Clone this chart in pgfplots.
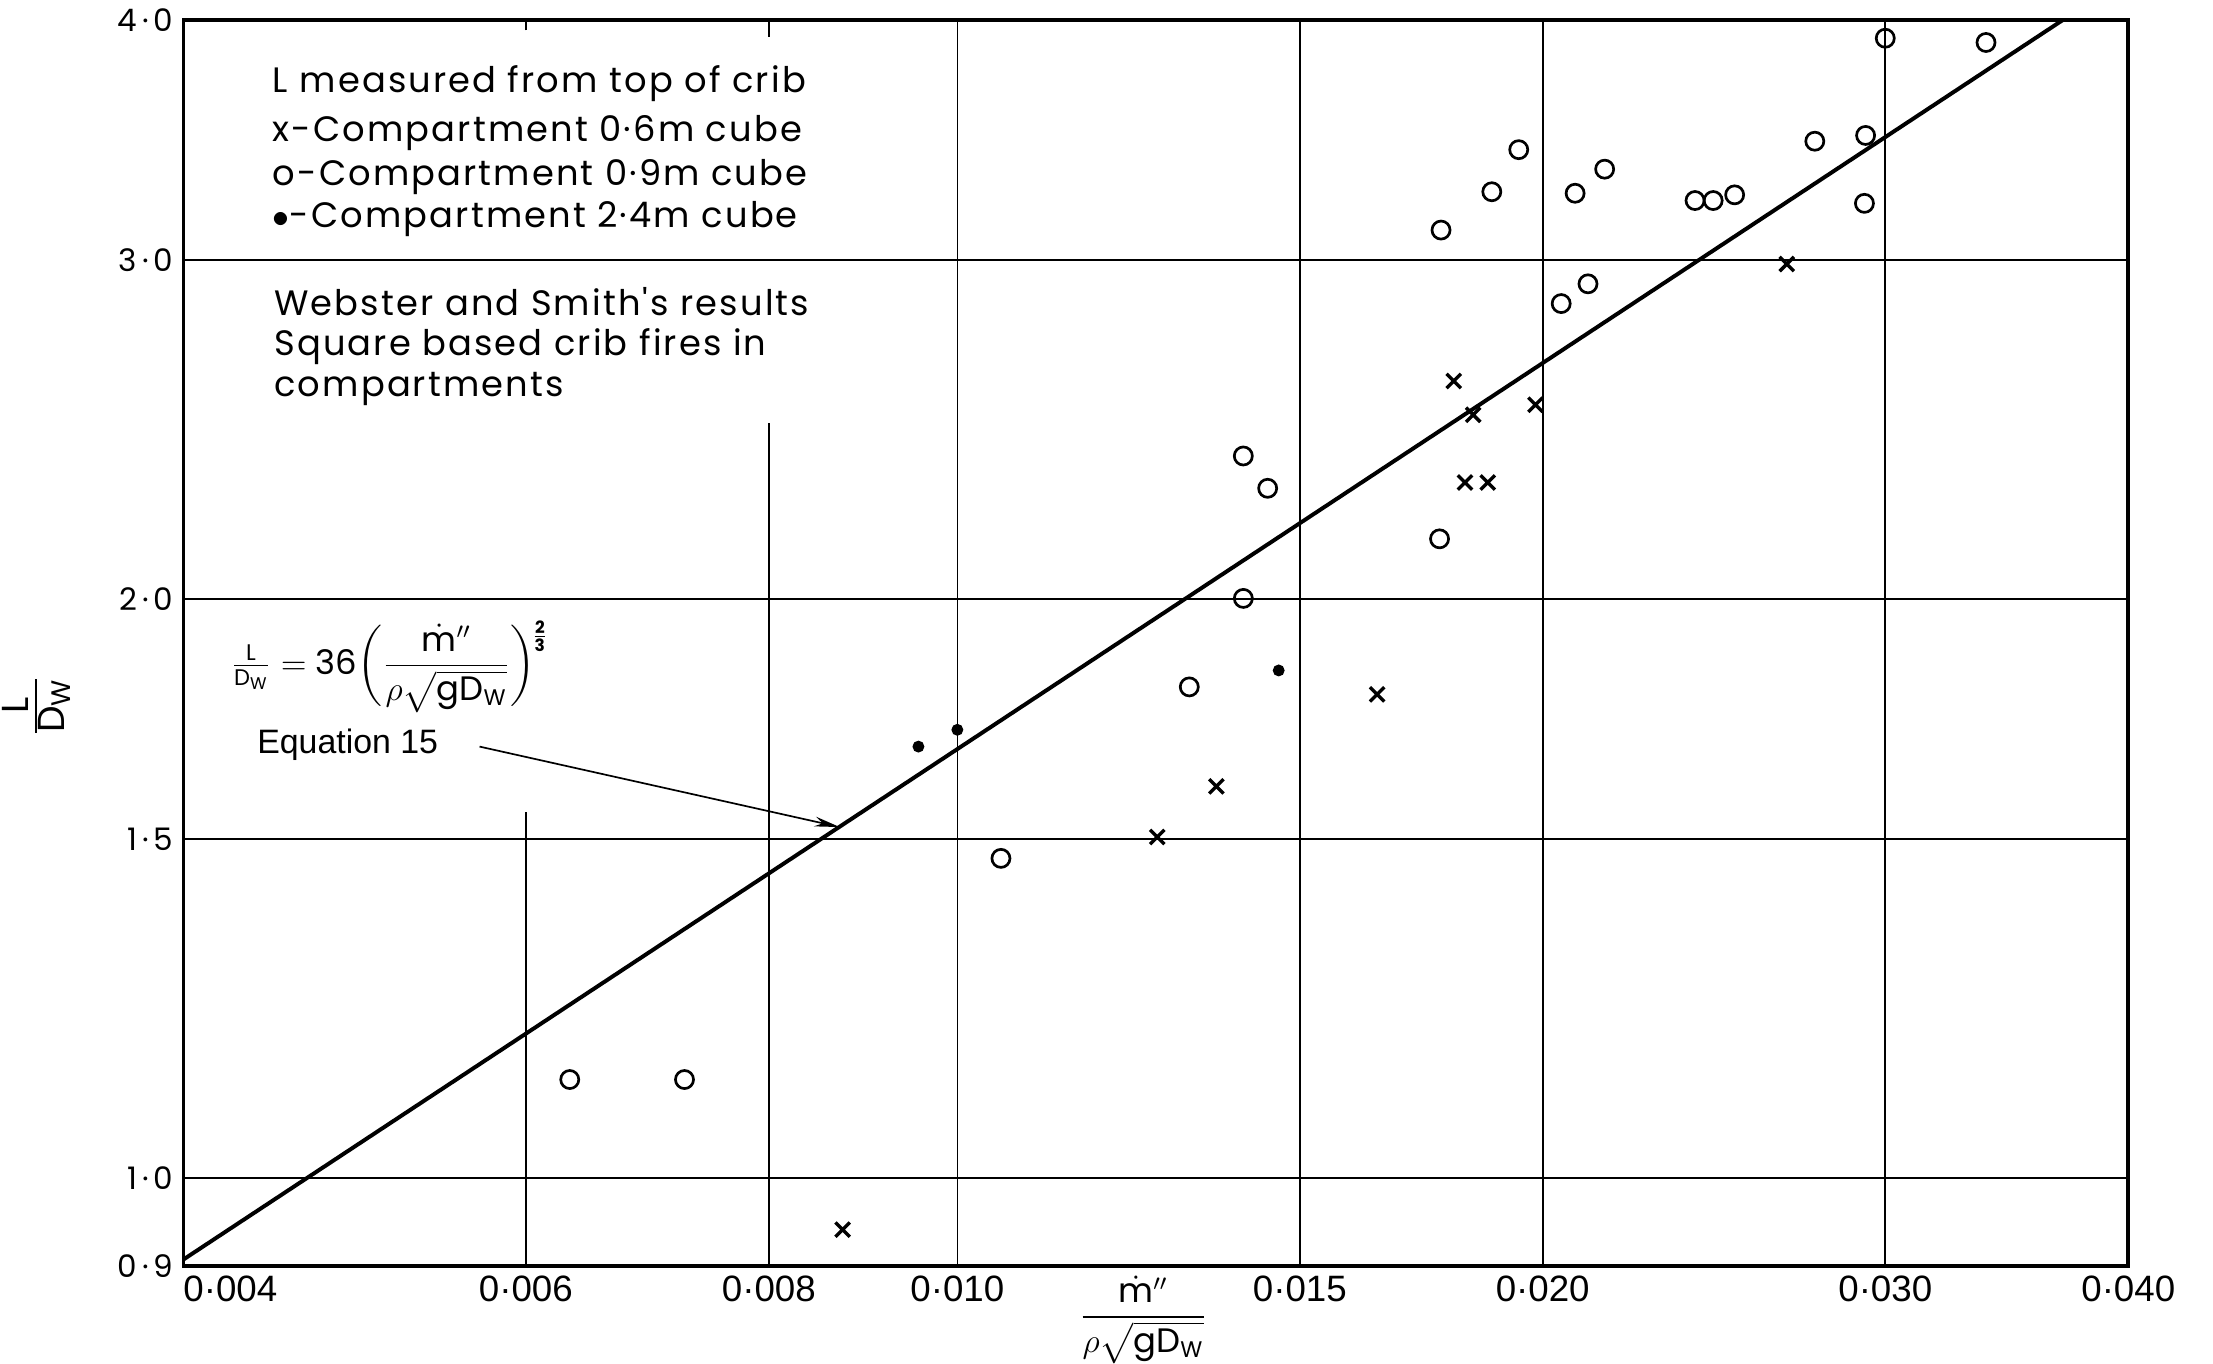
\documentclass[border=0pt]{standalone}
\usepackage{amsmath}
\usepackage{fontspec}
\setmainfont{Poppins}
\newfontfamily\legfont[LetterSpace=6]{Poppins}
\newfontfamily\tickfont{Liberation Sans}
\usepackage{pgfplots}
\pgfplotsset{compat=1.18}
\usetikzlibrary{arrows.meta}
\begin{document}
\begin{tikzpicture}
\begin{axis}[
  scale only axis, width=689pt, height=441.5pt,
  xmode=log, ymode=log,
  xmin=0.004, xmax=0.04, ymin=0.9, ymax=4,
  xtick={0.004,0.006,0.008,0.01,0.015,0.02,0.03,0.04},
  xticklabels={\makebox[0pt][l]{0·004},0·006,0·008,0·010,0·015,0·020,0·030,0·040},
  ytick={0.9,1,1.5,2,3,4},
  yticklabels={0\,·\,9,1\,·\,0,1\,·\,5,2\,·\,0,3\,·\,0,4\,·\,0},
  major tick length=0pt, minor tick length=0pt,
  axis line style={line width=1.3pt},
  xticklabel style={font=\tickfont\fontsize{13}{13}\selectfont},
  yticklabel style={font=\fontsize{11}{11}\selectfont},
  clip=false,
]
\tikzset{grid/.style={line width=0.6pt, black}}
% partial / full grid lines
\draw[grid] (axis cs:0.006,0.9) -- (axis cs:0.006,1.55);
\draw[grid] (axis cs:0.006,3.95) -- (axis cs:0.006,4);
\draw[grid] (axis cs:0.008,0.9) -- (axis cs:0.008,2.47);
\draw[grid] (axis cs:0.008,3.92) -- (axis cs:0.008,4);
\draw[grid] (axis cs:0.010,0.9) -- (axis cs:0.010,4);
\draw[grid] (axis cs:0.015,0.9) -- (axis cs:0.015,4);
\draw[grid] (axis cs:0.020,0.9) -- (axis cs:0.020,4);
\draw[grid] (axis cs:0.030,0.9) -- (axis cs:0.030,4);
\draw[grid] (axis cs:0.004,1.0) -- (axis cs:0.04,1.0);
\draw[grid] (axis cs:0.004,1.5) -- (axis cs:0.04,1.5);
\draw[grid] (axis cs:0.004,2.0) -- (axis cs:0.04,2.0);
\draw[grid] (axis cs:0.004,3.0) -- (axis cs:0.04,3.0);

% Equation 15 line
\addplot[black, line width=1.4pt] coordinates {(0.004,0.907) (0.03704,4.0)};

% o - Compartment 0.9 m cube
\addplot[only marks, mark=o, mark size=3.2pt, mark options={line width=0.95pt}] coordinates {
(0.00632,1.125) (0.00724,1.125) (0.01053,1.466) (0.01316,1.800) (0.01403,2.001)
(0.01403,2.373) (0.01444,2.283) (0.01770,2.149) (0.01773,3.110) (0.01883,3.256)
(0.01944,3.424) (0.02044,2.848) (0.02078,3.250) (0.02110,2.916) (0.02152,3.345)
(0.02395,3.222) (0.02447,3.222) (0.02510,3.244) (0.02760,3.459) (0.02931,3.483)
(0.02927,3.211) (0.03000,3.913) (0.03380,3.893)};

% x - Compartment 0.6 m cube
\addplot[only marks, mark=x, mark size=3.6pt, mark options={line width=1.2pt}] coordinates {
(0.00873,0.940) (0.01267,1.504) (0.01359,1.598) (0.01644,1.784) (0.01800,2.596)
(0.01842,2.493) (0.01824,2.299) (0.01874,2.299) (0.01983,2.523) (0.02670,2.986)};

% . - Compartment 2.4 m cube
\addplot[only marks, mark=*, mark size=1.9pt] coordinates {
(0.00955,1.676) (0.01000,1.71) (0.01463,1.836)};

% legend texts
\begin{scope}[every node/.style={anchor=west, inner sep=0pt, font=\legfont\fontsize{12.5}{12.5}\selectfont}]
\node at (rel axis cs:0.0457,0.949) {L measured from top of crib};
\node at (rel axis cs:0.0457,0.909) {x-Compartment 0·6m cube};
\node at (rel axis cs:0.0457,0.874) {o-Compartment 0·9m cube};
\node at (rel axis cs:0.0457,0.840) {$\bullet$-Compartment 2·4m cube};
\node at (rel axis cs:0.0465,0.7735) {Webster and Smith's results};
\node at (rel axis cs:0.0465,0.738) {Square based crib fires in};
\node at (rel axis cs:0.0465,0.704) {compartments};
\end{scope}

\node[anchor=west, inner sep=0pt, font=\fontsize{12}{12}\selectfont] at (rel axis cs:0.024,0.481)
  {$\frac{\mathrm{L}}{\mathrm{D_W}}=\mathrm{36}\bigg(\dfrac{\dot{\mathrm{m}}''}{\rho\sqrt{\mathrm{g}\mathrm{D_W}}}\bigg)^{\!\raisebox{-3pt}{$\scriptstyle\frac{\mathbf{2}}{\mathbf{3}}$}}$};
\node[anchor=west, inner sep=0pt, font=\tickfont\fontsize{12}{12}\selectfont] at (rel axis cs:0.0377,0.418) {Equation 15};
\draw[line width=0.6pt, -{Stealth[length=9pt,width=3.5pt]}] (axis cs:0.00568,1.676) -- (axis cs:0.0087,1.522);

% axis labels
\node[rotate=90, inner sep=0pt, font=\fontsize{19}{19}\selectfont] at ([xshift=-52pt]rel axis cs:0,0.4496) {$\frac{\mathrm{L}}{\mathrm{D_W}}$};
\node[font=\fontsize{12}{12}\selectfont] at ([yshift=-19pt]rel axis cs:0.4935,0) {$\dfrac{\dot{\mathrm{m}}''}{\rho\sqrt{\mathrm{g}\mathrm{D_W}}}$};
\end{axis}
\pgfresetboundingbox
\path (current axis.south west) +(-65pt,-34.5pt) (current axis.north east) +(30pt,7pt);
\end{tikzpicture}
\end{document}
